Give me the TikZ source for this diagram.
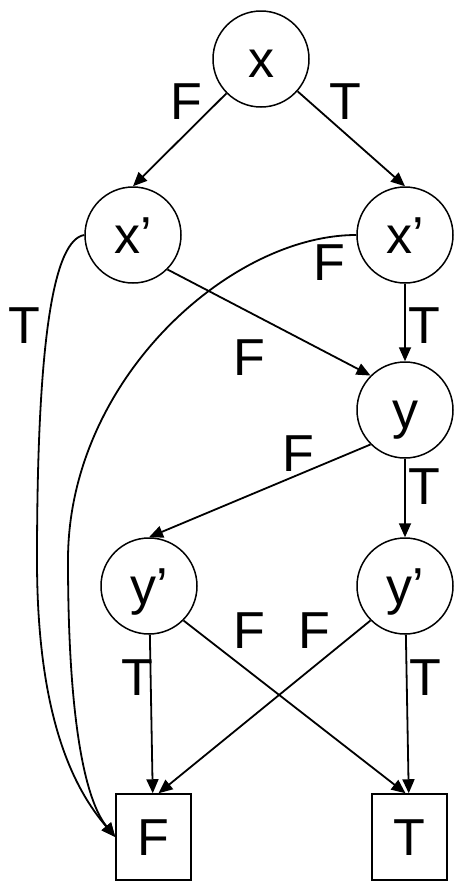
\documentclass[tikz,border=0pt]{standalone}
\usepackage{fontspec}
\setmainfont{Liberation Sans}
\usetikzlibrary{arrows.meta}
\tikzset{
    txt/.style={inner sep=0pt,text height=37pt,text depth=0pt},
    bddnode/.style={txt,draw,circle,minimum size=96pt,line width=1.5pt},
    leaf/.style={txt,draw,rectangle,minimum width=75pt,minimum height=86pt,line width=1.5pt},
    edge/.style={line width=1.8pt,-{Triangle[length=14pt,width=12pt]}},
    lbl/.style={txt}
}
\begin{document}
\begin{tikzpicture}[x=1pt,y=-1pt,font=\fontsize{52}{60}\selectfont]
\useasboundingbox (0,0) rectangle (454,881);
% nodes
\node[bddnode] (x) at (261,59) {x};
\node[bddnode] (xl) at (133,235) {x’};
\node[bddnode] (xr) at (405,235) {x’};
\node[bddnode] (y) at (405,410) {y};
\node[bddnode] (yl) at (149,586) {y’};
\node[bddnode] (yr) at (405,586) {y’};
\node[leaf] (Fb) at (153.5,837) {F};
\node[leaf] (Tb) at (409.5,837) {T};
% edges
\draw[edge] (x) -- (xl.north);
\draw[edge] (x) -- (xr.north);
\draw[edge] (xl.-45) -- (y.135);
\draw[edge] (xr) -- (y);
\draw[edge] (y.-135) -- (yl.north);
\draw[edge] (y) -- (yr);
\draw[edge] (yl) -- (Fb);
\draw[edge] (yl.-45) -- ([xshift=-4pt]Tb.north);
\draw[edge] (yr.-135) -- ([xshift=5pt]Fb.north);
\draw[edge] (yr) -- (Tb);
\coordinate (bendA) at (37,560);
\coordinate (bendB) at (68,560);
\draw[edge] (xl.west) .. controls (55,240) and (37,330) .. (bendA)
    .. controls (37,720) and (75,790) .. (Fb.west);
\draw[edge] (xr.west) .. controls (230,235) and (68,380) .. (bendB)
    .. controls (68,720) and (85,800) .. (Fb.west);
% labels
\node[lbl] (l1) at (186,101) {F};
\node[lbl] (l2) at (345,101) {T};
\node[lbl] (l3) at (24,325) {T};
\node[lbl] (l4) at (329,262) {F};
\node[lbl] (l5) at (424,325) {T};
\node[lbl] (l6) at (249,357) {F};
\node[lbl] (l7) at (298,453) {F};
\node[lbl] (l8) at (424,486) {T};
\node[lbl] (l9) at (249,630) {F};
\node[lbl] (l10) at (314,630) {F};
\node[lbl] (l11) at (137,677) {T};
\node[lbl] (l12) at (425,677) {T};
\end{tikzpicture}
\end{document}
